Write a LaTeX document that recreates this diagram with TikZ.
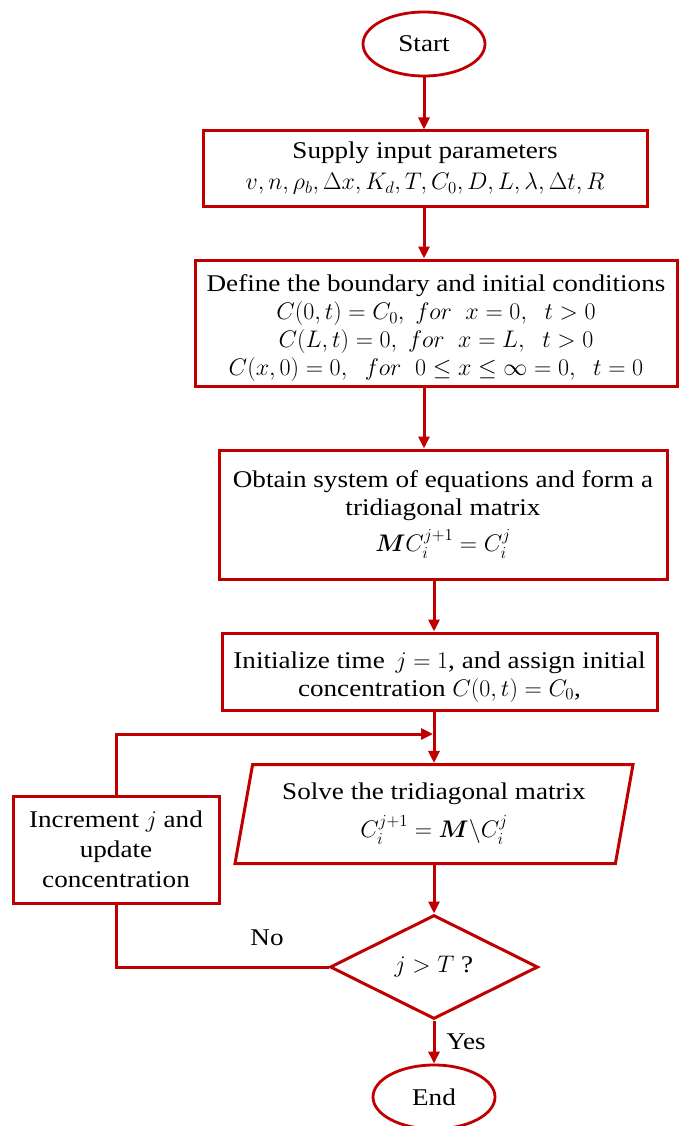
\RequirePackage{fix-cm}
\documentclass[tikz,border=0pt]{standalone}
\usepackage{amsmath}
\usepackage{bm}
\usepackage{fontspec}
\setmainfont{Liberation Serif}[FakeStretch=1.13]
\usetikzlibrary{shapes.geometric,arrows.meta}
\definecolor{fred}{RGB}{192,0,0}
\begin{document}
\begin{tikzpicture}[x=1pt,y=-1pt,
  every node/.style={font=\fontsize{24}{28}\selectfont, inner sep=0pt},
  box/.style={draw=fred, line width=3pt, rectangle, align=center},
  term/.style={draw=fred, line width=2.8pt, ellipse, minimum width=122pt, minimum height=64pt},
  arr/.style={draw=fred, line width=3pt, -{Triangle[length=12pt,width=11pt]}},
  conn/.style={draw=fred, line width=3pt}]
\useasboundingbox (0,0) rectangle (686,1126);
\coordinate (colA) at (424,0);
\coordinate (colB) at (434,0);
\coordinate (loopin) at (433,734);

\node[term] (start) at (424,44) {Start};
\node[box, minimum width=444pt, minimum height=75pt] (b1) at (425,168.5)
  {Supply input parameters\\[3pt]
   $v, n, \rho_b, \Delta x, K_d, T, C_0, D, L, \lambda, \Delta t, R$};
\node[box, minimum width=482pt, minimum height=126pt] (b2) at (436,323)
  {\rule{0pt}{27pt}Define the boundary and initial conditions\\
   $C(0,t)=C_0,\ for\ \ x=0,\ \ t>0$\\
   $C(L,t)=0,\ for\ \ x=L,\ \ t>0$\\
   $C(x,0)=0,\ \ for\ \ 0\le x\le \infty=0,\ \ t=0$};
\node[box, minimum width=448pt, minimum height=129pt] (b3) at (443,514.5)
  {Obtain system of equations and form a\\
   tridiagonal matrix\\[8pt]
   $\bm{M}C_i^{j+1}=C_i^j$};
\node[box, minimum width=435pt, minimum height=77pt] (b4) at (439.5,671.5)
  {\rule{0pt}{27pt}Initialize time $\,j=1$, and assign initial\\
   concentration $C(0,t)=C_0$,};
\node[draw=fred, line width=3pt, trapezium, trapezium left angle=74, trapezium right angle=106,
  trapezium stretches body, minimum width=398pt, minimum height=99pt, align=center] (solve) at (434,814)
  {Solve the tridiagonal matrix\\[10pt]
   $C_i^{j+1}=\bm{M}\backslash C_i^j$};
\node[box, minimum width=206pt, minimum height=107pt] (inc) at (116,849.5)
  {Increment $j$ and\\[2pt] update\\[2pt] concentration};
\node[draw=fred, line width=3pt, diamond, minimum width=208pt, minimum height=104pt] (dec) at (434,967)
  {$j>T$ ?};
\node[term] (end) at (434,1097) {End};
\node (no) at (267,938) {No};
\node (yes) at (466,1042) {Yes};

\draw[arr] (start) -- (start |- b1.north);
\draw[arr] (b1.south -| colA) -- (b2.north -| colA);
\draw[arr] (b2.south -| colA) -- (b3.north -| colA);
\draw[arr] (b3.south -| colB) -- (b4.north -| colB);
\draw[arr] (b4.south -| colB) -- (solve.north -| colB);
\draw[arr] (solve.south -| dec) -- (dec.north);
\draw[arr] (dec.south) -- (end.north);
\draw[arr] (inc.north) |- (loopin);
\draw[conn] (dec.west) -| (inc.south);
\end{tikzpicture}
\end{document}
